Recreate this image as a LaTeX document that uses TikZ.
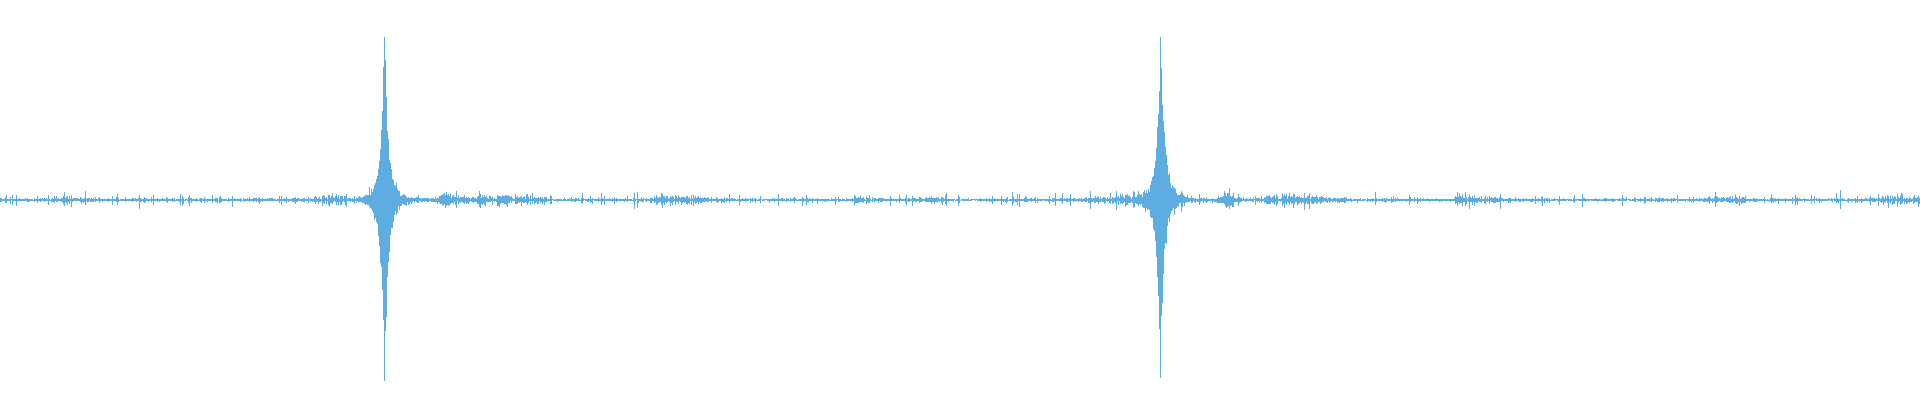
\documentclass[tikz,border=0pt]{standalone}
\definecolor{wave}{RGB}{93,173,226}
\tikzset{every picture/.style={line width=0.75pt}}
\begin{document}
\begin{tikzpicture}[x=1pt,y=1pt,yscale=-1,xscale=1]
\useasboundingbox (0,0) rectangle (1920,400);
\pgfmathsetseed{7}
% waveform samples
\foreach \i in {0,...,1919}{
  \pgfmathsetmacro\env{1.0+2.0*rnd^3+8*rnd^14
    +(3*(1+sin(\i*2.3))*rnd)*(abs(sin(\i*0.9))>0.75)
    +28*exp(-abs(\i-386)/10)+30*exp(-abs(\i-1162)/10)
    +10*exp(-abs(\i-1228)/5)+8*exp(-abs(\i-445)/6)}
  \pgfmathsetmacro\spk{172*exp(-abs(\i-384)/3.2)+158*exp(-abs(\i-1160)/3.2)}
  \pgfmathsetmacro\up{\env*(0.4+0.6*rnd)+\spk*(0.8+0.2*rnd)}
  \pgfmathsetmacro\dn{\env*(0.4+0.6*rnd)+\spk*(0.8+0.2*rnd)}
  \draw[wave,line width=0.6pt] (\i,200-\up) -- (\i,200+\dn);
}
\end{tikzpicture}
\end{document}
